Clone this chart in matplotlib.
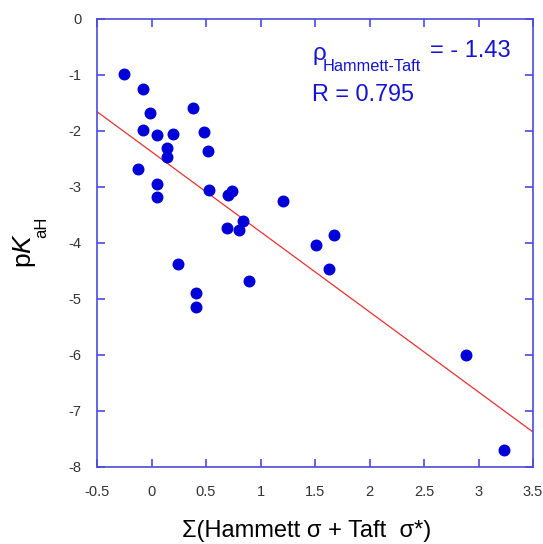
import matplotlib
matplotlib.use("Agg")
import matplotlib.pyplot as plt
import numpy as np

plt.rcParams['font.family'] = ['Liberation Sans', 'DejaVu Sans']
plt.rcParams['mathtext.fontset'] = 'custom'
plt.rcParams['mathtext.rm'] = 'Liberation Sans'
plt.rcParams['mathtext.it'] = 'Liberation Sans:italic'

sigma_sum = [-0.25, -0.08, -0.01, 0.38, -0.08, 0.05, 0.20, 0.48, 0.145, 0.145,
             0.52, -0.12, 0.05, 0.05, 0.53, 0.70, 0.74, 1.21, 0.69, 0.80,
             0.84, 0.24, 0.89, 0.41, 0.41, 1.51, 1.67, 1.63, 2.885, 3.23]
pKaH = [-0.99, -1.25, -1.67, -1.59, -1.99, -2.07, -2.05, -2.01, -2.30, -2.46,
        -2.36, -2.68, -2.95, -3.18, -3.06, -3.14, -3.08, -3.25, -3.73, -3.76,
        -3.60, -4.375, -4.67, -4.90, -5.15, -4.04, -3.86, -4.47, -6.00, -7.70]

rho = -1.43
intercept = -2.37
R = 0.795
fit_x = [-0.5, 3.5]

xticks = [-0.5, 0, 0.5, 1, 1.5, 2, 2.5, 3, 3.5]
xticklabels = ['-0.5', '0', '0.5', '1', '1.5', '2', '2.5', '3', '3.5']
yticks = [0, -1, -2, -3, -4, -5, -6, -7, -8]

W, H = 543, 544
fig = plt.figure(figsize=(W / 100, H / 100), dpi=100)
ax = fig.add_axes([97 / W, 1 - 467 / H, (533 - 97) / W, (467 - 19) / H])

spine_col = '#4a4ae0'
fx = np.array(fit_x)
ax.plot(fx, rho * fx + intercept, color='#e83030', lw=0.9, zorder=2)
ax.plot(sigma_sum, pKaH, 'o', color='#0000d8', ms=7.6, mec='#0000d8', zorder=3)

ax.set_xlim(-0.5, 3.5)
ax.set_ylim(-8, 0)
ax.set_xticks(xticks)
ax.set_xticklabels(xticklabels)
ax.set_yticks(yticks)
ax.set_yticklabels([str(t) for t in yticks])
for s in ax.spines.values():
    s.set_color(spine_col)
    s.set_linewidth(1.2)
ax.tick_params(direction='in', length=6, width=1.2, color=spine_col,
               top=True, right=True, labelsize=10.5, labelcolor='#333333')
ax.tick_params(axis='x', pad=13)
ax.tick_params(axis='y', pad=11)

# x label
fig.text(307 / W, 1 - 537 / H, '\u03a3(Hammett \u03c3 + Taft  \u03c3*)', fontsize=17,
         ha='center', va='baseline')
# y label: pK with lowered subscript aH
fig.text(31 / W, 1 - 268 / H, r'p$\mathit{K}$', fontsize=19, rotation=90,
         rotation_mode='anchor', ha='left', va='baseline')
fig.text(46 / W, 1 - 238 / H, 'aH', fontsize=12, rotation=90,
         rotation_mode='anchor', ha='left', va='baseline')

tc = '#1414d0'
fig.text(312 / W, 1 - 60 / H, '\u03c1', fontsize=17.5, color=tc, va='baseline')
fig.text(323 / W, 1 - 71 / H, 'Hammett-Taft', fontsize=11.8, color=tc, va='baseline')
fig.text(430 / W, 1 - 57 / H, '= - 1.43', fontsize=17, color=tc, va='baseline')
fig.text(312 / W, 1 - 101 / H, 'R = 0.795', fontsize=16.8, color=tc, va='baseline')

fig.savefig('out.png', dpi=100)
